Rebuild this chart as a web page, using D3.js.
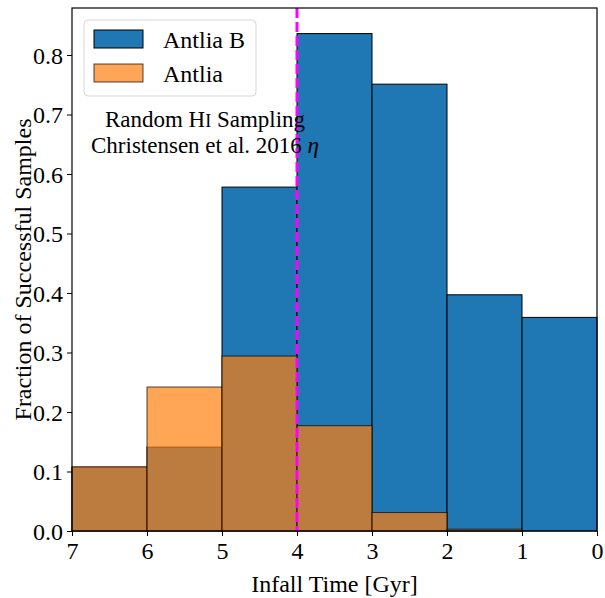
<!DOCTYPE html>
<html>
<head>
<meta charset="utf-8">
<script src="https://cdn.jsdelivr.net/npm/d3@7"></script>
<style>
  html, body { margin: 0; padding: 0; background: #fff; }
</style>
</head>
<body>
<svg id="chart" width="605" height="598" font-family="Liberation Serif"></svg>
<script>
// Data
const binEdges = [7, 6, 5, 4, 3, 2, 1, 0];
const antliaB = [0.107, 0.141, 0.578, 0.836, 0.751, 0.397, 0.359];
const antlia  = [0.108, 0.242, 0.294, 0.177, 0.031, 0.003, 0.0];
const xTicks = [7, 6, 5, 4, 3, 2, 1, 0];
const yTicks = [0.0, 0.1, 0.2, 0.3, 0.4, 0.5, 0.6, 0.7, 0.8];
const seriesNames = ["Antlia B", "Antlia"];
const infallLine = 4;

const FONT = "Liberation Serif";
const svg = d3.select("#chart");
const L = 72, R = 597, T = 8, B = 531;
const x = d3.scaleLinear().domain([7, 0]).range([L, R]);
const y = d3.scaleLinear().domain([0, 0.879]).range([B, T]);

const bins = d3.range(binEdges.length - 1).map(i => ({ x0: binEdges[i], x1: binEdges[i + 1] }));

// Antlia B bars
svg.append("g").selectAll("rect").data(bins).join("rect")
  .attr("x", d => x(d.x0))
  .attr("width", d => x(d.x1) - x(d.x0))
  .attr("y", (d, i) => y(antliaB[i]))
  .attr("height", (d, i) => y(0) - y(antliaB[i]))
  .attr("fill", "#1f77b4")
  .attr("stroke", "#000")
  .attr("stroke-width", 1);

// Antlia bars (alpha 0.7)
svg.append("g").selectAll("rect").data(bins).join("rect")
  .attr("x", d => x(d.x0))
  .attr("width", d => x(d.x1) - x(d.x0))
  .attr("y", (d, i) => y(antlia[i]))
  .attr("height", (d, i) => y(0) - y(antlia[i]))
  .attr("fill", "#ff7f0e")
  .attr("fill-opacity", 0.7)
  .attr("stroke", "#000")
  .attr("stroke-opacity", 0.7)
  .attr("stroke-width", 1);

// vertical dashed line
svg.append("line")
  .attr("x1", x(infallLine)).attr("x2", x(infallLine))
  .attr("y1", T).attr("y2", B)
  .attr("stroke", "#ff00ff")
  .attr("stroke-width", 3)
  .attr("stroke-dasharray", "10,4");

// Axes
const xAxis = d3.axisBottom(x).tickValues(xTicks).tickFormat(d3.format("d")).tickSize(5).tickPadding(4);
const yAxis = d3.axisLeft(y).tickValues(yTicks).tickFormat(d3.format(".1f")).tickSize(5).tickPadding(4);

const gx = svg.append("g").attr("transform", `translate(0,${B})`).call(xAxis);
const gy = svg.append("g").attr("transform", `translate(${L},0)`).call(yAxis);
[gx, gy].forEach(g => {
  g.attr("font-family", FONT).attr("font-size", 24);
  g.select(".domain").remove();
  g.selectAll(".tick line").attr("stroke", "#000").attr("stroke-width", 1);
  g.selectAll(".tick text").attr("font-size", 24).attr("font-family", FONT).attr("fill", "#000");
});
gx.selectAll(".tick text").attr("dy", "0.8em");
gy.selectAll(".tick text").attr("dy", "0.34em");

// frame
svg.append("rect")
  .attr("x", L).attr("y", T).attr("width", R - L).attr("height", B - T)
  .attr("fill", "none").attr("stroke", "#000").attr("stroke-width", 1.2);

// axis labels
svg.append("text")
  .attr("x", (L + R) / 2).attr("y", 592)
  .attr("text-anchor", "middle").attr("font-size", 24).attr("font-family", FONT)
  .text("Infall Time [Gyr]");
svg.append("text")
  .attr("transform", `translate(31,${(T + B) / 2}) rotate(-90)`)
  .attr("text-anchor", "middle").attr("font-size", 24).attr("font-family", FONT)
  .text("Fraction of Successful Samples");

// legend
const lg = svg.append("g");
lg.append("rect")
  .attr("x", 84).attr("y", 20).attr("width", 172).attr("height", 76)
  .attr("rx", 4).attr("fill", "#fff").attr("fill-opacity", 0.8)
  .attr("stroke", "#d6d6d6").attr("stroke-width", 1);
const legColors = [{ fill: "#1f77b4", op: 1 }, { fill: "#ff7f0e", op: 0.7 }];
seriesNames.forEach((name, i) => {
  const yy = 30 + i * 34;
  lg.append("rect")
    .attr("x", 94).attr("y", yy).attr("width", 49).attr("height", 18)
    .attr("fill", legColors[i].fill).attr("fill-opacity", legColors[i].op)
    .attr("stroke", "#000").attr("stroke-opacity", legColors[i].op).attr("stroke-width", 1);
  lg.append("text")
    .attr("x", 163).attr("y", yy + 18)
    .attr("font-size", 24).attr("font-family", FONT)
    .text(name);
});

// annotation (two separate lines)
const a1 = svg.append("text").attr("x", 205).attr("y", 127)
  .attr("text-anchor", "middle").attr("font-size", 23).attr("font-family", FONT);
a1.append("tspan").text("Random H");
a1.append("tspan").attr("font-size", 18).text("I");
a1.append("tspan").text(" Sampling");
const a2 = svg.append("text").attr("x", 205).attr("y", 153)
  .attr("text-anchor", "middle").attr("font-size", 23).attr("font-family", FONT);
a2.append("tspan").text("Christensen et al. 2016 ");
a2.append("tspan").attr("font-style", "italic").text("η");
</script>
</body>
</html>
